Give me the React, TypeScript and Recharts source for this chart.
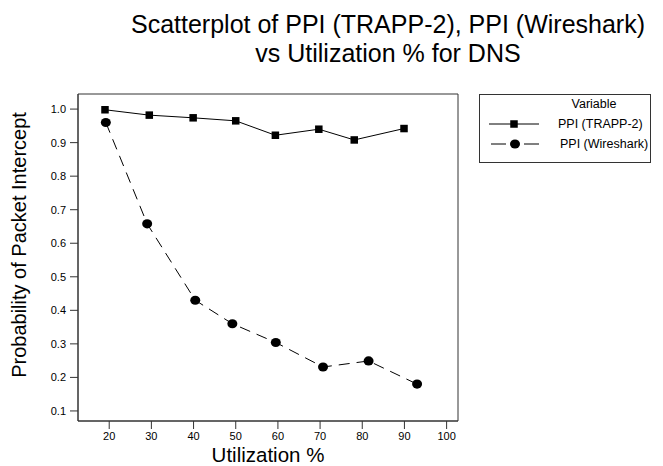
import { ScatterChart, Scatter, XAxis, YAxis, ReferenceArea } from 'recharts';

const utilTrapp = [19, 29.5, 39.9, 50, 59.4, 69.7, 78.1, 89.9];
const ppiTrapp = [0.998, 0.982, 0.974, 0.965, 0.922, 0.94, 0.908, 0.942];

const utilWireshark = [19.2, 29, 40.4, 49.2, 59.5, 70.7, 81.5, 93];
const ppiWireshark = [0.96, 0.658, 0.43, 0.36, 0.304, 0.231, 0.249, 0.18];

const xTicks = [20, 30, 40, 50, 60, 70, 80, 90, 100];
const yTicks = [0.1, 0.2, 0.3, 0.4, 0.5, 0.6, 0.7, 0.8, 0.9, 1.0];

const trappData = utilTrapp.map((x, i) => ({ x, y: ppiTrapp[i] }));
const wiresharkData = utilWireshark.map((x, i) => ({ x, y: ppiWireshark[i] }));

const FONT = 'Arial, "Liberation Sans", Helvetica, sans-serif';
const X_MIN = 12.6;
const X_MAX = 102.7;
const Y_MIN = 0.07;
const Y_MAX = 1.045;

const SquareDot = (props: any) => {
  const { cx, cy } = props;
  return <rect x={cx - 3.75} y={cy - 3.75} width={7.5} height={7.5} fill="#000" />;
};

const CircleDot = (props: any) => {
  const { cx, cy } = props;
  return <ellipse cx={cx} cy={cy} rx={5} ry={4.6} fill="#000" />;
};

const YLabel = () => {
  const cx = 26;
  const cy = 245;
  return (
    <text
      x={cx}
      y={cy}
      transform={`rotate(-90, ${cx}, ${cy})`}
      textAnchor="middle"
      fontSize={20}
      fontFamily={FONT}
      fill="#000"
    >
      Probability of Packet Intercept
    </text>
  );
};

const XLabel = () => (
  <text x={268} y={462} textAnchor="middle" fontSize={20.5} fontFamily={FONT} fill="#000">
    Utilization %
  </text>
);

export default function App() {
  return (
    <div style={{ position: 'absolute', left: 0, top: 0, width: 663, height: 466, background: '#fff', fontFamily: FONT }}>
      <div
        style={{
          position: 'absolute',
          left: 128,
          width: 520,
          top: 10,
          textAlign: 'center',
          fontSize: 25,
          lineHeight: '29px',
          color: '#000',
          whiteSpace: 'nowrap',
        }}
      >
        Scatterplot of PPI (TRAPP-2), PPI (Wireshark)
        <br />
        vs Utilization % for DNS
      </div>

      <div
        style={{
          position: 'absolute',
          left: 479,
          top: 94,
          width: 170,
          height: 67,
          border: '1px solid #333',
          fontSize: 12.5,
          lineHeight: '14px',
          color: '#000',
          whiteSpace: 'nowrap',
        }}
      >
        <div style={{ position: 'absolute', left: 84, top: 2, width: 60, textAlign: 'center' }}>Variable</div>
        <svg style={{ position: 'absolute', left: 0, top: 0 }} width={170} height={67}>
          <line x1={9} x2={59} y1={29} y2={29} stroke="#000" strokeWidth={1} />
          <rect x={30.25} y={25.25} width={7.5} height={7.5} fill="#000" />
          <line x1={11} x2={26} y1={49} y2={49} stroke="#000" strokeWidth={1} />
          <line x1={44} x2={59} y1={49} y2={49} stroke="#000" strokeWidth={1} />
          <ellipse cx={35} cy={49} rx={5} ry={4.6} fill="#000" />
        </svg>
        <div style={{ position: 'absolute', left: 78, top: 22 }}>PPI (TRAPP-2)</div>
        <div style={{ position: 'absolute', left: 80, top: 42 }}>PPI (Wireshark)</div>
      </div>

      <ScatterChart width={663} height={466} margin={{ top: 94, right: 205, bottom: 0, left: 18 }}>
        <XAxis
          type="number"
          dataKey="x"
          domain={[X_MIN, X_MAX]}
          ticks={xTicks}
          allowDataOverflow
          height={45}
          tickSize={8}
          tickMargin={3}
          axisLine={{ stroke: '#333' }}
          tickLine={{ stroke: '#333' }}
          tick={{ fontSize: 11, fill: '#000', fontFamily: FONT }}
          label={<XLabel />}
        />
        <YAxis
          type="number"
          dataKey="y"
          domain={[Y_MIN, Y_MAX]}
          ticks={yTicks}
          allowDataOverflow
          width={60}
          tickSize={8}
          tickMargin={4}
          tickFormatter={(v: number) => v.toFixed(1)}
          axisLine={{ stroke: '#333' }}
          tickLine={{ stroke: '#333' }}
          tick={{ fontSize: 11, fill: '#000', fontFamily: FONT }}
          label={<YLabel />}
        />
        <ReferenceArea x1={X_MIN} x2={X_MAX} y1={Y_MIN} y2={Y_MAX} fill="none" stroke="#333" strokeWidth={1} ifOverflow="visible" />
        <Scatter
          name="PPI (TRAPP-2)"
          data={trappData}
          line={{ stroke: '#000', strokeWidth: 1 }}
          shape={<SquareDot />}
          isAnimationActive={false}
        />
        <Scatter
          name="PPI (Wireshark)"
          data={wiresharkData}
          line={{ stroke: '#000', strokeWidth: 1, strokeDasharray: '11 7' }}
          shape={<CircleDot />}
          isAnimationActive={false}
        />
      </ScatterChart>
    </div>
  );
}
